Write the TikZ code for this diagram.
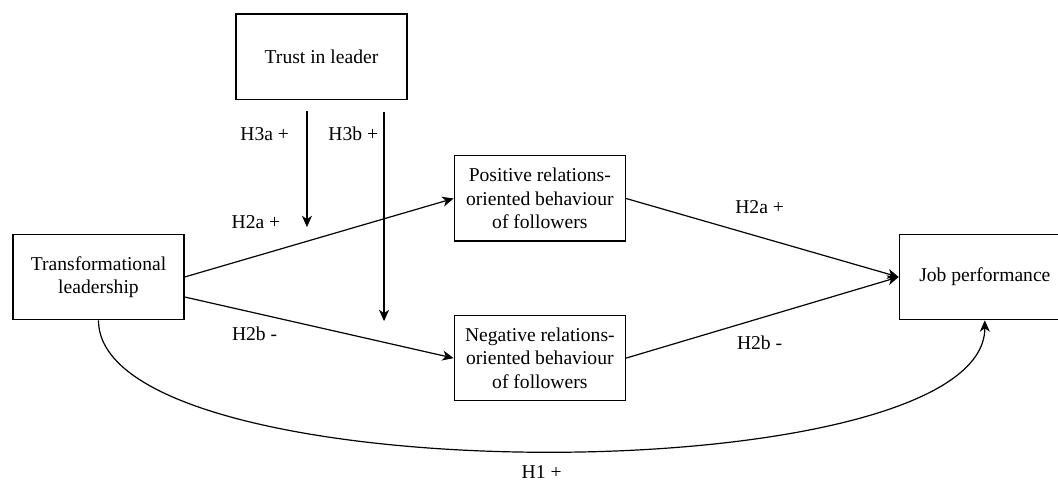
\documentclass[tikz,border=0pt]{standalone}
\usepackage{fontspec}
\setmainfont{Liberation Serif}
\usepackage{tikz}
\usetikzlibrary{arrows.meta, positioning}

\begin{document}
\begin{tikzpicture}[
    box/.style={draw, line width=1pt, minimum width=128.25pt, minimum height=64pt, inner sep=0pt, align=center, font=\fontsize{14.7}{17.5}\selectfont},
    lbl/.style={inner sep=0pt, font=\fontsize{14.7}{17.5}\selectfont},
    arrow/.style={draw, line width=0.9pt, ->, >={Stealth[length=8.5pt, width=7.5pt, inset=2.5pt]}}
]
    \useasboundingbox (-73.875pt,-153pt) rectangle (719.625pt,207.75pt);

    % Nodes
    \node[box] (tl) {Transformational\\leadership};
    \node[box, right=535.5pt of tl] (job) {Job performance};
    \node[box, right=201.75pt of tl, yshift=58.9pt] (pos) {Positive relations-\\oriented behaviour\\of followers};
    \node[box, below=54.75pt of pos] (neg) {Negative relations-\\oriented behaviour\\of followers};
    \node[box, above left=41.25pt and 34.5pt of pos] (trust) {Trust in leader};

    % Moderator end points
    \coordinate[below=95.25pt of trust.south, xshift=-10.9pt] (h3a end);
    \coordinate[below=165.75pt of trust.south, xshift=46.9pt] (h3b end);

    % Connections
    \draw[arrow] (tl.east) -- node[lbl, pos=0.265, above=20pt] {H2a +} (pos.west);
    \draw[arrow] ([yshift=-15pt]tl.east) -- node[lbl, pos=0.26, below=10pt] {H2b -} (neg.west);
    \draw[arrow] (pos.east) -- node[lbl, pos=0.49, above=17pt] {H2a +} (job.west);
    \draw[arrow] (neg.east) -- node[lbl, pos=0.49, below=13pt] {H2b -} (job.west);

    \draw[arrow] ([xshift=-10.9pt, yshift=-8.25pt]trust.south) -- node[lbl, pos=0.2, left=13pt] {H3a +} (h3a end);
    \draw[arrow] ([xshift=46.9pt, yshift=-9pt]trust.south) -- node[lbl, pos=0.105, left=4pt] {H3b +} (h3b end);

    \draw[arrow] (tl.south) .. controls +(0,-131pt) and +(0,-131pt) .. node[lbl, pos=0.5, below=10pt] {H1 +} (job.south);

\end{tikzpicture}
\end{document}
